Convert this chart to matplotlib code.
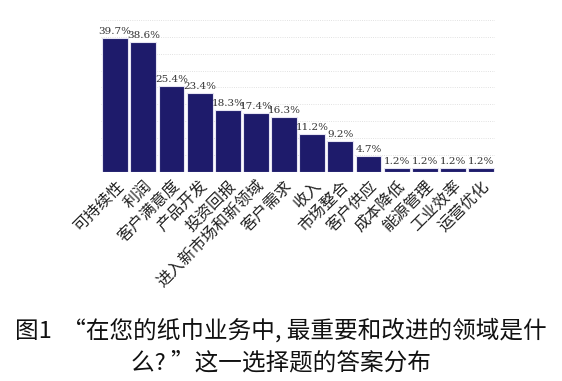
import matplotlib.pyplot as plt

plt.rcParams['font.family'] = ['Noto Sans CJK SC', 'DejaVu Sans']

categories = ['可持续性', '利润', '客户满意度', '产品开发', '投资回报',
              '进入新市场和新领域', '客户需求', '收入', '市场整合', '客户供应',
              '成本降低', '能源管理', '工业效率', '运营优化']
values = [39.7, 38.6, 25.4, 23.4, 18.3, 17.4, 16.3, 11.2, 9.2, 4.7,
          1.2, 1.2, 1.2, 1.2]
value_labels = ['39.7%', '38.6%', '25.4%', '23.4%', '18.3%', '17.4%', '16.3%',
                '11.2%', '9.2%', '4.7%', '1.2%', '1.2%', '1.2%', '1.2%']
grid_levels = [5, 10, 15, 20, 25, 30, 35, 40, 45]

fig = plt.figure(figsize=(5.62, 3.81), dpi=100)
ax = fig.add_axes([0.18, 0.549, 0.701, 0.3985])

x = range(len(categories))
ax.bar(x, values, width=0.92, color='#1e1b6b', edgecolor='#e6e4f2',
       linewidth=0.8, zorder=2)

for xi, v, lab in zip(x, values, value_labels):
    ax.text(xi, v + 0.6, lab, ha='center', va='bottom', fontsize=7.5,
            family=['DejaVu Serif'], color='#333333')

for g in grid_levels:
    ax.axhline(g, color='#d8d8d8', linestyle=':', linewidth=0.6, zorder=0)

ax.set_xlim(-0.5, len(categories) - 0.5)
ax.set_ylim(0, 45)
ax.set_yticks([])
ax.set_xticks(list(x))
ax.set_xticklabels(categories, rotation=45, ha='right', va='top',
                   rotation_mode='anchor', fontsize=11.5, color='#222222')
ax.tick_params(axis='x', length=0, pad=4)
for s in ax.spines.values():
    s.set_visible(False)

fig.text(0.5, 0.132, '图1  “在您的纸巾业务中, 最重要和改进的领域是什',
         ha='center', va='center', fontsize=17, color='#111111')
fig.text(0.5, 0.048, '么? ”这一选择题的答案分布',
         ha='center', va='center', fontsize=17, color='#111111')

fig.savefig('out.png', dpi=100)
